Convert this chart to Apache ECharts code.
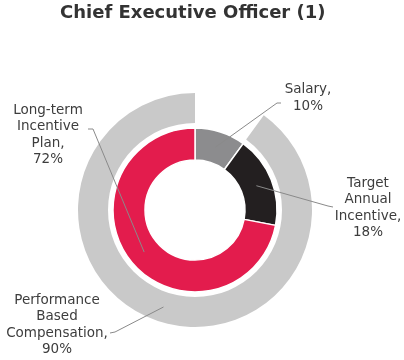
<!DOCTYPE html>
<html>
<head>
<meta charset="utf-8">
<script src="https://cdn.jsdelivr.net/npm/echarts@6/dist/echarts.min.js"></script>
<style>html,body{margin:0;padding:0;background:#fff}#c{width:404px;height:360px}</style>
</head>
<body>
<div id="c"></div>
<script>
// ---- data ----
const titleText = 'Chief Executive Officer (1)';
const innerNames = ['Salary,', 'Target\nAnnual\nIncentive,', 'Long-term\nIncentive\nPlan,'];
const innerValues = [10, 18, 72];
const outerNames = ['', 'Performance\nBased\nCompensation,'];
const outerValues = [10, 90];

// ---- styles ----
const innerColors = ['#8c8c8e', '#231f20', '#e31c4d'];
const outerColors = ['rgba(0,0,0,0)', '#c9c9c9'];
const center = [195, 210];
const textColor = '#3d3d3d';
const fontFamily = 'DejaVu Sans';

// label placement (label centre, hook points) per series/data index
const labelPlace = {
  '2-0': { x: 308, y: 98, bend: [277, 103], end: [281, 103] },
  '2-1': { x: 368, y: 208, bend: [328, 206], end: [333, 207] },
  '2-2': { x: 48, y: 135, bend: [93, 129], end: [88, 129] },
  '3-1': { x: 57, y: 325, bend: [115, 332], end: [110, 333] }
};

function placeLabel(params) {
  const p = labelPlace[params.seriesIndex + '-' + params.dataIndex];
  if (!p || !params.labelLinePoints) return {};
  return {
    x: p.x, y: p.y, align: 'center', verticalAlign: 'middle',
    labelLinePoints: [params.labelLinePoints[0], p.bend, p.end]
  };
}

const chart = echarts.init(document.getElementById('c'), null, { renderer: 'canvas' });

const labelStyle = {
  show: true,
  position: 'outside',
  alignTo: 'none',
  formatter: p => p.name + '\n' + p.value + '%',
  color: textColor,
  fontFamily: fontFamily,
  fontSize: 13.5,
  lineHeight: 16.5,
  align: 'center'
};
const lineStyle = { show: true, length: 8, length2: 4, smooth: false, lineStyle: { color: '#8a8a8a', width: 1 } };

chart.setOption({
  animation: false,
  backgroundColor: '#fff',
  title: {
    text: titleText,
    left: 55,
    top: -1,
    textStyle: { fontFamily: fontFamily, fontWeight: 'bold', fontSize: 18, color: '#333' }
  },
  series: [
    {
      type: 'pie', silent: true, center: center, radius: [50, 82], startAngle: 90,
      label: { show: false }, labelLine: { show: false },
      itemStyle: { borderColor: '#fff', borderWidth: 1.5 },
      data: innerValues.map((v, i) => ({ name: innerNames[i], value: v, itemStyle: { color: innerColors[i] } }))
    },
    {
      type: 'pie', silent: true, center: center, radius: [87, 117], startAngle: 90,
      label: { show: false }, labelLine: { show: false },
      data: outerValues.map((v, i) => ({ name: outerNames[i], value: v, itemStyle: { color: outerColors[i] } }))
    },
    {
      type: 'pie', silent: true, center: center, radius: [0, 66], startAngle: 90, z: 5,
      avoidLabelOverlap: false,
      itemStyle: { color: 'rgba(0,0,0,0)' },
      label: labelStyle, labelLine: lineStyle,
      labelLayout: placeLabel,
      data: innerValues.map((v, i) => ({ name: innerNames[i], value: v }))
    },
    {
      type: 'pie', silent: true, center: center, radius: [0, 102], startAngle: 90, z: 5,
      avoidLabelOverlap: false,
      itemStyle: { color: 'rgba(0,0,0,0)' },
      label: labelStyle, labelLine: lineStyle,
      labelLayout: placeLabel,
      data: outerValues.map((v, i) => i === 0
        ? { name: outerNames[i], value: v, label: { show: false }, labelLine: { show: false } }
        : { name: outerNames[i], value: v })
    }
  ]
});
</script>
</body>
</html>
